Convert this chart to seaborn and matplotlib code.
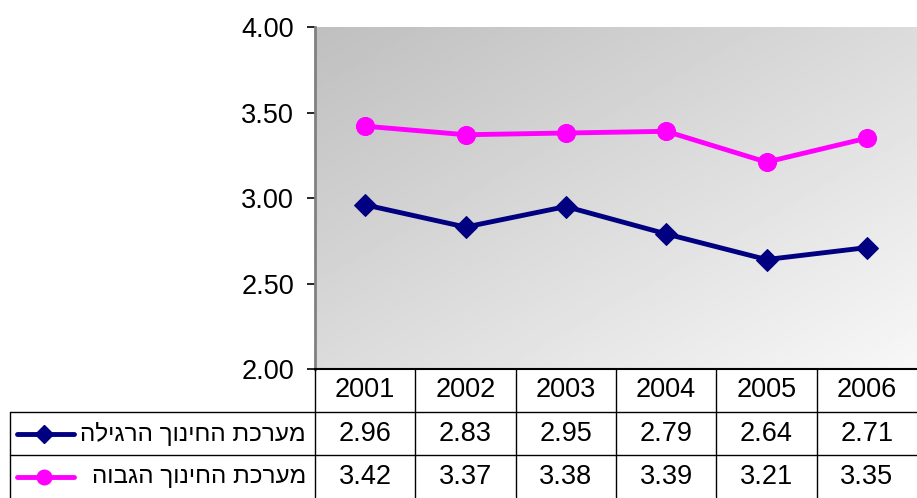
#!/usr/bin/env python3

import seaborn as sns
import pandas as pd
import numpy as np
import matplotlib.pyplot as plt
import matplotlib.transforms as mtransforms
from matplotlib.lines import Line2D

years = ["2001", "2002", "2003", "2004", "2005", "2006"]
regular = [2.96, 2.83, 2.95, 2.79, 2.64, 2.71]
higher = [3.42, 3.37, 3.38, 3.39, 3.21, 3.35]
series_names = ["מערכת החינוך הרגילה", "מערכת החינוך הגבוה"]
y_ticks = [2.00, 2.50, 3.00, 3.50, 4.00]

W, H = 917, 498

sns.set_style("white")
plt.rcParams['font.family'] = ['Liberation Sans', 'DejaVu Sans']
plt.rcParams['text.color'] = 'black'
plt.rcParams['ytick.color'] = 'black'
plt.rcParams['ytick.labelcolor'] = 'black'

fig = plt.figure(figsize=(W / 100, H / 100), dpi=100)


def fx(px):
    return px / W


def fy(py):
    return 1 - py / H


ax = fig.add_axes([fx(315), fy(369), fx(917) - fx(315), fy(27) - fy(369)])

# gradient background, dark top-left to light bottom-right
u, v = np.meshgrid(np.linspace(0, 1, 200), np.linspace(0, 1, 200))
grad = 0.75 + (0.97 - 0.75) * (u + v) / 2
ax.imshow(grad, cmap="gray", vmin=0, vmax=1, extent=[0, 1, 0, 1], transform=ax.transAxes,
          aspect="auto", zorder=0, origin="upper")

df = pd.DataFrame({"year": years, "regular": regular, "higher": higher})
sns.lineplot(data=df, x="year", y="regular", ax=ax, color="#000080", marker="D",
             markersize=11, markeredgecolor="#000080", linewidth=3.5, zorder=3)
sns.lineplot(data=df, x="year", y="higher", ax=ax, color="#FF00FF", marker="o",
             markersize=13, markeredgecolor="#FF00FF", linewidth=3.5, zorder=3)

num_fs = 19.5

ax.set_xlim(-0.5, 5.5)
ax.set_ylim(2, 4)
ax.set_yticks(y_ticks)
ax.set_yticklabels([f"{t:.2f}" for t in y_ticks], fontsize=num_fs)
ax.set_xticks([])
ax.set_xlabel("")
ax.set_ylabel("")
ax.tick_params(axis="y", direction="out", length=6, width=1.2, color="black", pad=9, left=True)
for s in ["top", "right"]:
    ax.spines[s].set_visible(False)
ax.spines["left"].set_color("#808080")
ax.spines["left"].set_linewidth(2)
ax.spines["bottom"].set_color("black")
ax.spines["bottom"].set_linewidth(1.5)

# data table under the chart
tr = mtransforms.blended_transform_factory(ax.transData, fig.transFigure)


def fline(xs, ys, **kw):
    fig.add_artist(Line2D([fx(x) for x in xs], [fy(y) for y in ys],
                          transform=fig.transFigure, **kw))


line_kw = dict(color="black", linewidth=1)
fline([10, 917], [412, 412], **line_kw)
fline([10, 917], [455, 455], **line_kw)
fline([10, 10], [412, 498], **line_kw)
fline([315, 315], [369, 498], **line_kw)
for i in range(len(years) - 1):
    fig.add_artist(Line2D([i + 0.5, i + 0.5], [fy(369), fy(498)], transform=tr, **line_kw))

row_y = [390, 434, 477]
for i, yr in enumerate(years):
    fig.text(i, fy(row_y[0]), yr, transform=tr, ha="center", va="center", fontsize=num_fs)
    fig.text(i, fy(row_y[1]), f"{regular[i]:.2f}", transform=tr, ha="center", va="center", fontsize=num_fs)
    fig.text(i, fy(row_y[2]), f"{higher[i]:.2f}", transform=tr, ha="center", va="center", fontsize=num_fs)

# row headers with legend keys
keys = [("#000080", "D", 9), ("#FF00FF", "o", 10.5)]
for (c, m, ms), name, ry in zip(keys, series_names, row_y[1:]):
    fline([17, 74], [ry, ry], color=c, linewidth=3.5, solid_capstyle="round")
    fline([44], [ry], color=c, marker=m, markersize=ms, linestyle="none")
    fig.text(fx(306), fy(ry), name[::-1], ha="right", va="center", fontsize=17.5)

plt.savefig("out.png", dpi=100)
